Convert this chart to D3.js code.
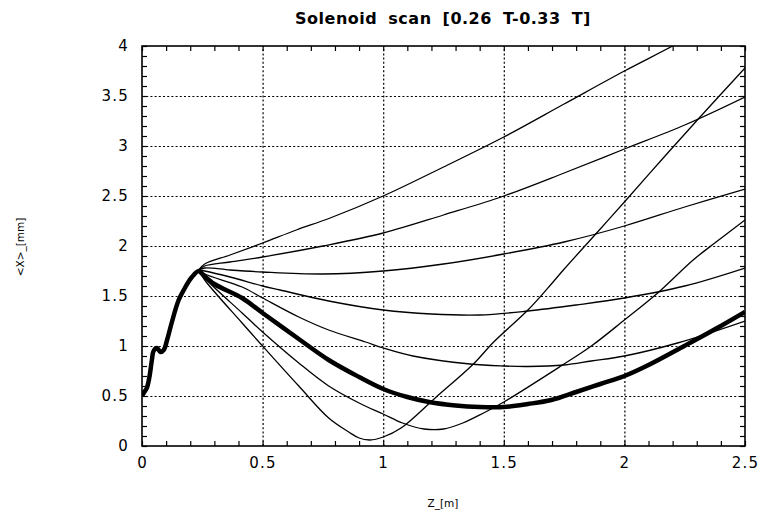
<!DOCTYPE html>
<html><head><meta charset="utf-8">
<script src="https://cdn.jsdelivr.net/npm/d3@7"></script>
<style>
body{margin:0;background:#fff;}
svg{display:block;}
</style></head><body>
<svg id="chart" width="761" height="517"></svg>
<script>
// ---- text ----
const titleText = "Solenoid scan [0.26 T-0.33 T]";
const xLabel = "Z_[m]";
const yLabel = "<X>_[mm]";
// ---- tick labels ----
const xTickLabels = [0, 0.5, 1, 1.5, 2, 2.5];
const yTickLabels = [0, 0.5, 1, 1.5, 2, 2.5, 3, 3.5, 4];
// ---- series: [z (m), <X> (mm)] ----
const thickCurve = [[0,0.5],[0.007,0.53],[0.02,0.58],[0.03,0.68],[0.041,0.86],[0.048,0.95],[0.062,0.98],[0.076,0.94],[0.09,0.96],[0.104,1.06],[0.124,1.24],[0.152,1.46],[0.18,1.59],[0.207,1.69],[0.235,1.75],[0.25,1.72],[0.3,1.62],[0.415,1.48],[0.5,1.33],[0.65,1.07],[0.774,0.86],[0.9,0.69],[1.0,0.57],[1.1,0.49],[1.19,0.44],[1.3,0.405],[1.4,0.39],[1.5,0.39],[1.6,0.42],[1.697,0.46],[1.8,0.54],[1.9,0.62],[2.0,0.7],[2.1,0.81],[2.248,1.0],[2.4,1.2],[2.5,1.34]];
const curveA = [[0.235,1.76],[0.26,1.82],[0.365,1.91],[0.5,2.03],[0.64,2.16],[0.78,2.28],[1.0,2.5],[1.25,2.79],[1.5,3.09],[1.75,3.42],[2.0,3.75],[2.2,4.0],[2.35,4.2]];
const curveB = [[0.235,1.76],[0.26,1.8],[0.365,1.84],[0.5,1.89],[0.75,2.0],[1.0,2.13],[1.25,2.31],[1.5,2.5],[1.75,2.73],[2.0,2.97],[2.25,3.21],[2.5,3.49]];
const curveC = [[0.235,1.76],[0.26,1.78],[0.365,1.76],[0.5,1.74],[0.75,1.72],[1.0,1.75],[1.25,1.82],[1.5,1.92],[1.75,2.04],[2.0,2.2],[2.25,2.39],[2.5,2.57]];
const curveF = [[0.235,1.76],[0.26,1.75],[0.365,1.69],[0.5,1.6],[0.572,1.56],[0.774,1.45],[1.0,1.36],[1.2,1.32],[1.4,1.31],[1.6,1.35],[1.8,1.41],[2.0,1.48],[2.25,1.6],[2.5,1.78]];
const curveH = [[0.235,1.76],[0.26,1.72],[0.415,1.59],[0.5,1.48],[0.65,1.29],[0.774,1.16],[0.927,1.04],[1.0,0.98],[1.123,0.9],[1.36,0.82],[1.5,0.8],[1.6,0.795],[1.75,0.81],[1.863,0.85],[2.0,0.9],[2.22,1.03],[2.5,1.25]];
const curveE = [[0.235,1.76],[0.26,1.68],[0.415,1.33],[0.5,1.14],[0.65,0.83],[0.774,0.6],[0.9,0.43],[1.0,0.32],[1.08,0.23],[1.17,0.17],[1.25,0.17],[1.33,0.23],[1.416,0.33],[1.5,0.44],[1.737,0.8],[1.863,1.0],[2.0,1.26],[2.138,1.53],[2.285,1.86],[2.38,2.04],[2.5,2.26]];
const curveD = [[0.235,1.76],[0.26,1.66],[0.415,1.23],[0.5,1.0],[0.65,0.6],[0.774,0.28],[0.857,0.14],[0.9,0.08],[0.945,0.06],[1.0,0.09],[1.074,0.18],[1.22,0.49],[1.374,0.82],[1.458,1.04],[1.6,1.36],[1.69,1.6],[1.747,1.76],[1.885,2.13],[2.0,2.44],[2.15,2.85],[2.31,3.28],[2.5,3.78]];
const thinCurves = [curveA, curveB, curveC, curveF, curveH, curveE, curveD];

// ---- drawing ----
const svg = d3.select("#chart");
const x = d3.scaleLinear().domain([0, 2.5]).range([142, 745]);
const y = d3.scaleLinear().domain([0, 4]).range([446, 46]);
const W = x.range()[1] - x.range()[0], H = y.range()[0] - y.range()[1];

svg.append("rect").attr("width", 761).attr("height", 517).attr("fill", "#fff");

svg.append("defs").append("clipPath").attr("id", "plotclip")
  .append("rect").attr("x", x(0)).attr("y", y(4)).attr("width", W).attr("height", H);

// grid
const gx = svg.append("g").attr("transform", `translate(0,${y(0)})`)
  .call(d3.axisBottom(x).tickValues(xTickLabels.slice(1, -1)).tickSize(-H).tickFormat(""));
const gy = svg.append("g").attr("transform", `translate(${x(0)},0)`)
  .call(d3.axisLeft(y).tickValues(yTickLabels.slice(1, -1)).tickSize(-W).tickFormat(""));
[gx, gy].forEach(g => {
  g.select(".domain").remove();
  g.selectAll("line").attr("stroke", "#000").attr("stroke-width", 1.2).attr("stroke-dasharray", "2,2.2");
});

// minor ticks
function minor(g) { g.select(".domain").remove(); g.selectAll("line").attr("stroke", "#000").attr("stroke-width", 1.2); }
svg.append("g").attr("transform", `translate(0,${y(0)})`)
  .call(d3.axisBottom(x).tickValues(x.ticks(25)).tickSize(-5).tickFormat("")).call(minor);
svg.append("g").attr("transform", `translate(0,${y(4)})`)
  .call(d3.axisTop(x).tickValues(x.ticks(25)).tickSize(-5).tickFormat("")).call(minor);
svg.append("g").attr("transform", `translate(${x(0)},0)`)
  .call(d3.axisLeft(y).tickValues(y.ticks(40)).tickSize(-5).tickFormat("")).call(minor);
svg.append("g").attr("transform", `translate(${x(2.5)},0)`)
  .call(d3.axisRight(y).tickValues(y.ticks(40)).tickSize(-5).tickFormat("")).call(minor);

// tick labels
const fmt = d => String(d);
const xl = svg.append("g").attr("transform", `translate(0,${y(0)})`)
  .call(d3.axisBottom(x).tickValues(xTickLabels).tickSize(0).tickPadding(11).tickFormat(fmt));
const yl = svg.append("g").attr("transform", `translate(${x(0)},0)`)
  .call(d3.axisLeft(y).tickValues(yTickLabels).tickSize(0).tickPadding(13).tickFormat(fmt));
[xl, yl].forEach(g => {
  g.select(".domain").remove();
  g.selectAll("text").attr("fill", "#000")
    .style("font-family", "'DejaVu Sans', sans-serif").style("font-size", "15px")
    .style("letter-spacing", "1.2px");
});

// curves
const line = d3.line().x(d => x(d[0])).y(d => y(d[1])).curve(d3.curveCatmullRom.alpha(0.5));
const plot = svg.append("g").attr("clip-path", "url(#plotclip)");
plot.selectAll("path.thin").data(thinCurves).join("path").attr("class", "thin")
  .attr("d", line).attr("fill", "none").attr("stroke", "#000").attr("stroke-width", 1.3);
plot.append("path").datum(thickCurve).attr("d", line)
  .attr("fill", "none").attr("stroke", "#000").attr("stroke-width", 4.5).attr("stroke-linejoin", "round");

// frame
svg.append("rect").attr("x", x(0)).attr("y", y(4)).attr("width", W).attr("height", H)
  .attr("fill", "none").attr("stroke", "#000").attr("stroke-width", 1.6);

// title & axis labels
svg.append("text").attr("x", 443).attr("y", 24).attr("text-anchor", "middle")
  .style("font-family", "'DejaVu Sans', sans-serif").style("font-weight", "bold")
  .style("font-size", "16px").style("letter-spacing", "0.5px").style("word-spacing", "5px")
  .text(titleText);
svg.append("text").attr("x", 443).attr("y", 507).attr("text-anchor", "middle")
  .style("font-family", "'DejaVu Sans', sans-serif").style("font-size", "10.5px")
  .text(xLabel);
svg.append("text").attr("transform", "translate(24,247) rotate(-90)").attr("text-anchor", "middle")
  .style("font-family", "'DejaVu Sans', sans-serif").style("font-size", "10.5px")
  .text(yLabel);
</script>
</body></html>
